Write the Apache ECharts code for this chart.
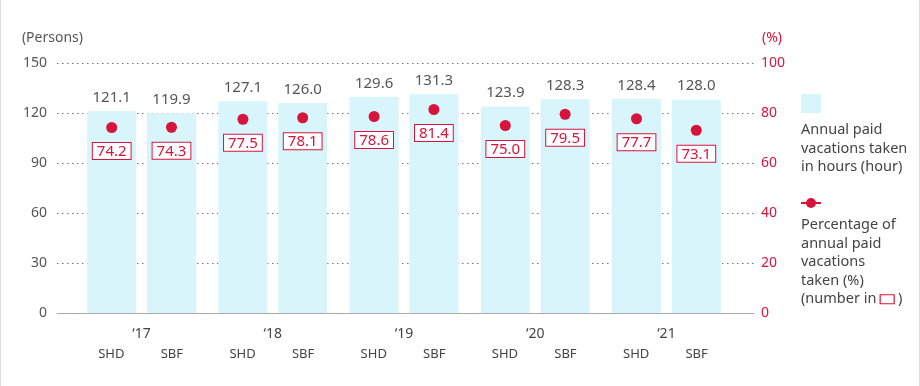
<!DOCTYPE html>
<html>
<head>
<meta charset="utf-8">
<script src="https://cdn.jsdelivr.net/npm/echarts@6/dist/echarts.min.js"></script>
<style>
html,body{margin:0;padding:0;background:#fff;}
#c{width:918px;height:386px;border-left:1px solid #ddd;border-right:1px solid #ddd;}
</style>
</head>
<body>
<div id="c"></div>
<script>
const years = ['‘17', '‘18', '‘19', '‘20', '‘21'];
const companies = ['SHD', 'SBF'];
const hoursSHD = [121.1, 127.1, 129.6, 123.9, 128.4];
const hoursSBF = [119.9, 126.0, 131.3, 128.3, 128.0];
const pctSHD = [74.2, 77.5, 78.6, 75.0, 77.7];
const pctSBF = [74.3, 78.1, 81.4, 79.5, 73.1];
const leftTicks = { min: 0, max: 150, interval: 30 };
const rightTicks = { min: 0, max: 100, interval: 20 };

const RED = '#d7143c';
const BLUE = '#d9f5fc';
const FONT = 'Noto Sans';
const chart = echarts.init(document.getElementById('c'));

function barSeries(name, data) {
  return {
    name: name, type: 'bar', xAxisIndex: 1, yAxisIndex: 2,
    data: data, barWidth: 49, barGap: '22%',
    itemStyle: { color: BLUE },
    label: { show: true, position: 'top', distance: 6, color: '#555', fontSize: 15, fontFamily: FONT,
      formatter: p => p.value.toFixed(1) },
    z: 2
  };
}
function dotSeries(name, data) {
  return {
    name: name, type: 'pictorialBar', xAxisIndex: 1, yAxisIndex: 3,
    data: data, barWidth: 49, barGap: '22%',
    symbol: 'circle', symbolSize: 11, symbolPosition: 'end', symbolOffset: [0, '-50%'],
    itemStyle: { color: RED },
    label: { show: true, position: 'insideTop', distance: 21, color: RED, fontSize: 15, fontFamily: FONT,
      backgroundColor: '#fff', borderColor: RED, borderWidth: 1, padding: [1, 4, 0, 4],
      formatter: p => p.value.toFixed(1) },
    z: 5
  };
}

chart.setOption({
  animation: false,
  textStyle: { fontFamily: FONT },
  grid: [
    { left: 56, right: 165, top: 63, bottom: 73 },
    { left: 75, right: 187, top: 63, bottom: 73 }
  ],
  xAxis: [
    { gridIndex: 0, type: 'category', data: years,
      axisLine: { lineStyle: { color: '#aaa', width: 1 } },
      axisTick: { show: false }, axisLabel: { show: false } },
    { gridIndex: 1, type: 'category', data: years,
      axisLine: { show: false }, axisTick: { show: false },
      axisLabel: { margin: 11, color: '#444',
        formatter: v => '{y|' + v + '}\n{s|' + companies[0] + '}{s|' + companies[1] + '}',
        rich: {
          y: { fontSize: 14, lineHeight: 20, color: '#444', fontFamily: FONT },
          s: { fontSize: 13, lineHeight: 20, width: 60.5, align: 'center', color: '#444', fontFamily: FONT }
        } } }
  ],
  yAxis: [
    { gridIndex: 0, type: 'value', min: leftTicks.min, max: leftTicks.max, interval: leftTicks.interval,
      name: '(Persons)', nameLocation: 'end', nameGap: 18,
      nameTextStyle: { color: '#555', fontSize: 14, align: 'right', padding: [0, -26, 0, 0] },
      axisLine: { show: false }, axisTick: { show: false },
      axisLabel: { color: '#555', fontSize: 14, margin: 10 },
      splitLine: { lineStyle: { type: [1.5, 3.5], color: '#777' } } },
    { gridIndex: 0, type: 'value', min: rightTicks.min, max: rightTicks.max, interval: rightTicks.interval,
      position: 'right', name: '(%)', nameLocation: 'end', nameGap: 18,
      nameTextStyle: { color: RED, fontSize: 14, align: 'left', padding: [0, 0, 0, 8] },
      axisLine: { show: false }, axisTick: { show: false },
      axisLabel: { color: RED, fontSize: 14, margin: 7 },
      splitLine: { show: false } },
    { gridIndex: 1, type: 'value', min: leftTicks.min, max: leftTicks.max, show: false },
    { gridIndex: 1, type: 'value', min: rightTicks.min, max: rightTicks.max, show: false }
  ],
  series: [
    barSeries('SHD hours', hoursSHD),
    barSeries('SBF hours', hoursSBF),
    dotSeries('SHD %', pctSHD),
    dotSeries('SBF %', pctSBF)
  ],
  graphic: [
    { type: 'rect', left: 800, top: 94, shape: { width: 20, height: 19 }, style: { fill: BLUE } },
    { type: 'text', left: 800, top: 121, style: { text: 'Annual paid\nvacations taken\nin hours (hour)',
      font: '14.5px "Noto Sans"', fill: '#444', lineHeight: 18.5 } },
    { type: 'line', shape: { x1: 800, y1: 203, x2: 820, y2: 203 }, style: { stroke: RED, lineWidth: 2 } },
    { type: 'circle', shape: { cx: 810, cy: 203, r: 5 }, style: { fill: RED } },
    { type: 'text', left: 800, top: 216, style: {
      text: 'Percentage of\nannual paid\nvacations\ntaken (%)\n(number in {b|} )',
      font: '14.5px "Noto Sans"', fill: '#444', lineHeight: 18.5,
      rich: { b: { width: 14, height: 9, borderColor: RED, borderWidth: 1.2, lineHeight: 18.5 } } } }
  ]
});
</script>
</body>
</html>
